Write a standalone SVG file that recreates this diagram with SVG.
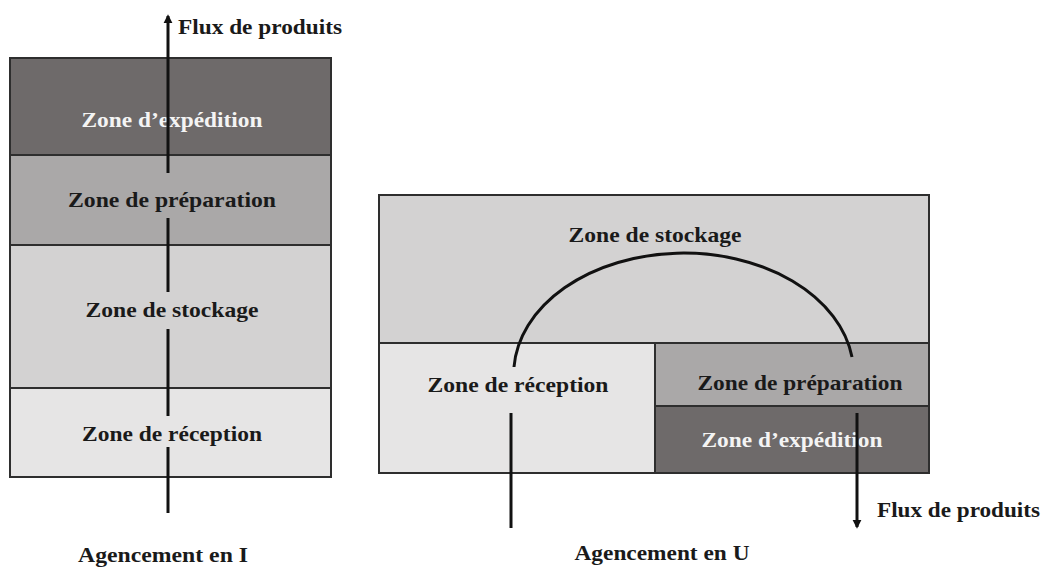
<svg xmlns="http://www.w3.org/2000/svg" width="1043" height="567" viewBox="0 0 1043 567">
<style>
.z{stroke:#2e2e2e;stroke-width:2}
.t{font-family:"Liberation Serif","Times New Roman",serif;font-weight:bold;font-size:22px;fill:#1a1a1a}
.w{fill:#f4f4f4}
.ln{stroke:#111;stroke-width:3;fill:none}
.exp{fill:#6e6a6a}.prep{fill:#aaa8a8}.stock{fill:#d3d2d2}.rec{fill:#e6e5e5}
</style>
<defs>
<marker id="ah" viewBox="0 0 10 10" refX="8" refY="5" markerWidth="3" markerHeight="3.4" orient="auto" markerUnits="strokeWidth">
<path d="M0,0 L10,5 L0,10 z" fill="#111"/>
</marker>
</defs>
<rect width="1043" height="567" fill="#ffffff"/>
<g id="layout-I">
<g id="i-expedition"><rect class="z exp" x="10" y="58" width="321" height="97"/><text class="t w" x="172" y="127" text-anchor="middle" textLength="181" lengthAdjust="spacingAndGlyphs">Zone d’expédition</text></g>
<g id="i-preparation"><rect class="z prep" x="10" y="155" width="321" height="90"/><text class="t" x="172" y="207" text-anchor="middle" textLength="208" lengthAdjust="spacingAndGlyphs">Zone de préparation</text></g>
<g id="i-stockage"><rect class="z stock" x="10" y="245" width="321" height="143"/><text class="t" x="172" y="317" text-anchor="middle" textLength="173" lengthAdjust="spacingAndGlyphs">Zone de stockage</text></g>
<g id="i-reception"><rect class="z rec" x="10" y="388" width="321" height="89"/><text class="t" x="172" y="441" text-anchor="middle" textLength="180" lengthAdjust="spacingAndGlyphs">Zone de réception</text></g>
<text id="i-flux" class="t" x="178" y="34" textLength="164" lengthAdjust="spacingAndGlyphs">Flux de produits</text>
<text id="i-title" class="t" x="163" y="562" text-anchor="middle" textLength="170" lengthAdjust="spacingAndGlyphs">Agencement en I</text>
</g>
<g id="layout-U">
<g id="u-stockage"><rect class="z stock" x="379" y="195" width="550" height="148"/><text class="t" x="655" y="242" text-anchor="middle" textLength="173" lengthAdjust="spacingAndGlyphs">Zone de stockage</text></g>
<g id="u-reception"><rect class="z rec" x="379" y="343" width="276" height="130"/><text class="t" x="518" y="392" text-anchor="middle" textLength="181" lengthAdjust="spacingAndGlyphs">Zone de réception</text></g>
<g id="u-preparation"><rect class="z prep" x="655" y="343" width="274" height="63"/><text class="t" x="800" y="390" text-anchor="middle" textLength="205" lengthAdjust="spacingAndGlyphs">Zone de préparation</text></g>
<g id="u-expedition"><rect class="z exp" x="655" y="406" width="274" height="67"/><text class="t w" x="792" y="447" text-anchor="middle" textLength="181" lengthAdjust="spacingAndGlyphs">Zone d’expédition</text></g>
<text id="u-flux" class="t" x="877" y="517" textLength="163" lengthAdjust="spacingAndGlyphs">Flux de produits</text>
<text id="u-title" class="t" x="662" y="560" text-anchor="middle" textLength="175" lengthAdjust="spacingAndGlyphs">Agencement en U</text>
</g>
<g id="connectors">
<line class="ln" x1="168" y1="173" x2="168" y2="16" marker-end="url(#ah)"/>
<line class="ln" x1="168" y1="218" x2="168" y2="292"/>
<line class="ln" x1="168" y1="329" x2="168" y2="416"/>
<line class="ln" x1="168" y1="447" x2="168" y2="513"/>
<path class="ln" d="M514,367 A170,121 0 0 1 852,357"/>
<line class="ln" x1="511" y1="413" x2="511" y2="528"/>
<line class="ln" x1="857" y1="413" x2="857" y2="527" marker-end="url(#ah)"/>
</g>
</svg>
